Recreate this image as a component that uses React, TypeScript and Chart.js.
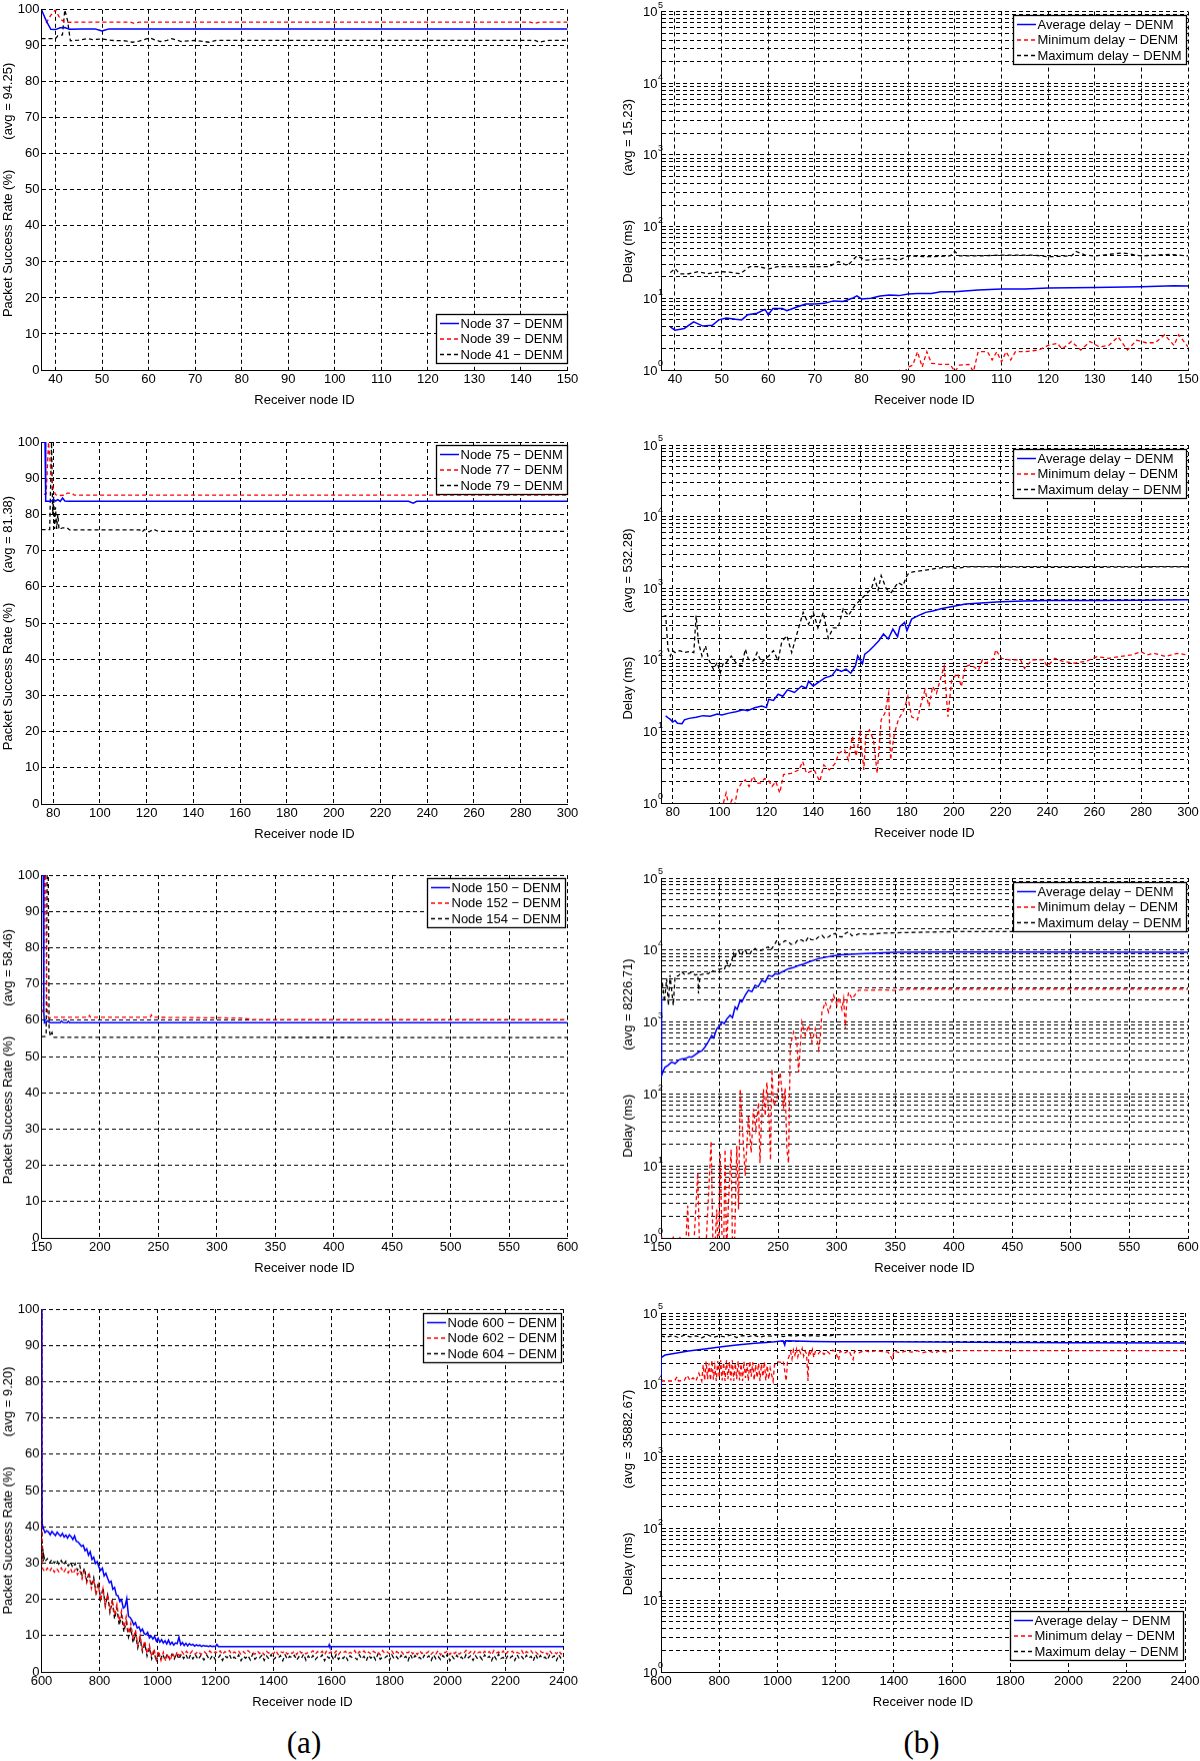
import React, { useEffect, useRef } from "react";
import { Chart, registerables } from "chart.js";

Chart.register(...registerables);

type Pt = [number, number];

const FONT = '"Liberation Sans", Arial, Helvetica, sans-serif';
const BLUE = "#0000ff";
const RED = "#ff0000";
const BLACK = "#000000";
const GRID = "#000000";

// ---------- tick arrays ----------
const PSR_Y_TICKS = [0, 10, 20, 30, 40, 50, 60, 70, 80, 90, 100];
const LOG_DECADES = [0, 1, 2, 3, 4, 5];
const LOG_MULTIPLIERS = [1, 2, 3, 4, 5, 6, 7, 8, 9];
const X_TICKS_1 = [40, 50, 60, 70, 80, 90, 100, 110, 120, 130, 140, 150];
const X_TICKS_2 = [80, 100, 120, 140, 160, 180, 200, 220, 240, 260, 280, 300];
const X_TICKS_3 = [150, 200, 250, 300, 350, 400, 450, 500, 550, 600];
const X_TICKS_4 = [600, 800, 1000, 1200, 1400, 1600, 1800, 2000, 2200, 2400];

// ---------- row 1 ----------
const R1_N37: Pt[] = [[37,100],[38,97],[39,94.6],[40,94.5],[41,95.0],[42,95.1],[43,94.6],[46,94.7],[48.5,94.7],[49.5,94.3],[50,94.1],[50.5,94.3],[51.5,94.7],[150,94.7]];
const R1_N39: Pt[] = [[38,96.3],[39,98.5],[40,100],[41,97.5],[42,96.5],[45,96.6],[56,96.6],[57,96.2],[58,96.6],[142,96.6],[143,96.2],[144,96.6],[150,96.6]];
const R1_N41: Pt[] = [[37,92.0],[40,92.0],[40.5,92.8],[41.5,93.0],[42,100],[42.6,97],[43.2,91.4],[45,91.6],[47,92.0],[48,91.7],[50,91.9],[52,91.5],[55,91.4],[56.5,91.0],[58,91.3],[59.5,91.9],[60.5,92.1],[61.5,91.6],[62.5,91.2],[64,91.5],[65,92.0],[66,91.6],[67,91.2],[70,91.5],[73,91.0],[74.5,91.5],[143,91.5],[144,91.0],[145,91.3],[146,91.5],[150,91.5]];

const R1_AVG: Pt[] = [[39,4.0],[40,3.6],[42,3.8],[44,4.7],[46,4.1],[48,4.2],[49.4,5.0],[51,5.3],[53,5.1],[54.3,5.0],[55.6,5.9],[57.6,6.2],[59.3,7.0],[60,5.9],[61,7.2],[63,7.2],[64,6.7],[66,7.5],[68,8.3],[70,8.3],[72,8.5],[74,9.2],[76,9.0],[78,10.0],[79,10.8],[80,9.8],[82,10.0],[84,10.8],[86,11.1],[88,10.9],[90,11.5],[92,11.7],[95,11.7],[97,12.3],[100,12.3],[105,13.1],[110,13.5],[115,13.5],[120,13.9],[130,14.2],[140,14.5],[147,15.0],[150,14.9]];
const R1_MIN: Pt[] = [[88,1.0],[89,0.9],[90,1.1],[91,1.17],[92,1.8],[93,1.1],[94,1.8],[95,1.24],[97,1.2],[99,1.2],[100,0.95],[101,1.17],[103,1.2],[104,0.95],[105,1.8],[107,1.8],[108,1.38],[109,1.8],[110,1.3],[111,1.8],[112,1.38],[113,1.8],[115,1.8],[118,1.9],[120,2.2],[122,2.36],[123,1.95],[125,2.5],[127,1.9],[129,2.5],[131,2.1],[133,2.2],[135,2.9],[137,1.9],[139,2.6],[141,2.4],[143,2.4],[145,3.1],[147,2.2],[148,3.1],[150,2.1]];
const R1_MAX: Pt[] = [[39,22.8],[40,26],[41,21.9],[43,22],[45,23.5],[47,22],[50,23.5],[52,23],[54,22],[56,27.6],[58,27.6],[60,25.6],[62,27.6],[66,27.6],[70,27.6],[73,27.6],[75,32.5],[77,28.5],[79,39],[81,34],[83,35],[86,36],[88,34],[90,39],[95,38],[99,39],[100,45],[101,39],[105,39],[110,40],[117,40],[120,38],[125,39],[126,45],[128,40],[130,39],[136,43],[140,39],[146,41],[150,39]];

// ---------- row 2 ----------
const R2_N75: Pt[] = [[75,100],[76.5,100],[76.8,83.6],[79,83.6],[80,84.1],[81,83.7],[82,84.1],[83,83.6],[84,84.5],[85,83.7],[86,83.6],[232,83.6],[234,83.1],[235.5,83.6],[300,83.6]];
const R2_N77: Pt[] = [[76,85.5],[77,85.7],[78,100],[79,92],[80,87],[81,85.5],[82,85.2],[85,85.3],[86,85.9],[88,85.9],[89,85.3],[300,85.3]];
const R2_N79: Pt[] = [[75,75.8],[78.5,75.8],[79.3,100],[79.8,80],[80.2,85],[80.6,76],[81,82],[81.5,76],[82,80],[82.5,75.8],[84,76.3],[86,76.3],[87,75.7],[117,75.7],[118,75.1],[119,75.8],[121,75.2],[123,75.9],[125,75.3],[300,75.3]];

const R2_AVG: Pt[] = [[77,16.5],[78,15.5],[79,14.7],[80,13.5],[81,14.2],[82,13.0],[84,12.8],[85,14.5],[87,15.2],[90,15.8],[93,16.6],[96,16.3],[99,17.5],[101,17.0],[104,18.0],[107,18.8],[110,20.0],[112,19.5],[115,21.4],[118,22.6],[120,21.5],[121,28],[123,27],[125,33],[127,31],[129,38],[132,35],[135,43],[137,40],[138,50],[140,43],[142,48],[145,56],[148,60],[150,74],[152,69],[154,74],[156,65],[158,82],[159,114],[161,88],[162,120],[164,135],[166,157],[168,185],[170,229],[172,195],[174,268],[176,210],[177,290],[179,334],[180,255],[182,370],[184,400],[186,430],[188,460],[191,480],[195,520],[200,560],[205,600],[210,617],[215,630],[220,648],[230,664],[240,672],[260,672],[280,680],[300,688]];
const R2_MIN: Pt[] = [[101,0.8],[102,1.11],[102.8,1.38],[104,0.9],[105.3,1.11],[106.5,0.95],[107.7,1.53],[109.4,1.9],[111,2.1],[112.6,1.7],[114.3,2.35],[115.9,1.9],[117.5,1.9],[119.2,2.2],[120.8,2.1],[122.4,1.7],[124,2.0],[125.7,1.38],[127.3,2.5],[130.6,2.6],[133.9,2.9],[135.5,3.8],[137.1,2.6],[140.4,2.9],[142.8,2.0],[144.5,3.4],[146.9,2.9],[149.4,3.6],[151,5],[153.4,5.5],[155,4],[156.7,8.5],[158.3,4.5],[160,9.5],[161.6,2.9],[162.4,8.5],[164,10.5],[165.7,7.6],[167.3,2.6],[169,14.5],[170.6,18],[172.2,34],[173,4.0],[174.7,9.5],[176.3,14.5],[178.7,20],[180.4,30.6],[182,16],[184.5,14.5],[186.1,25],[187.7,38],[189.4,22.3],[191,42.5],[192.6,34],[194.2,52.5],[195.9,81],[197.5,16],[199.1,52.5],[201.6,65],[203.2,42],[204.9,81],[207.3,85],[210.6,72],[212.2,100],[213.8,90],[217.1,105],[217.9,138],[220.4,105],[223.6,100],[228.5,100],[230.2,76],[233.4,100],[238.3,100],[239.9,81],[243.2,105],[246.5,95],[251.4,90],[256.3,95],[261.2,111],[266.1,105],[271,111],[275.9,117],[280,130],[282.4,117],[285.6,123],[290.5,111],[295.4,123],[300,117]];
const R2_MAX: Pt[] = [[76,400],[77,414],[78,141],[79,113],[80,134],[81,126],[83,134],[85,126],[87,130],[89,126],[90,414],[91,175],[92.5,113],[94,157],[95.3,102],[97.4,74],[99,92],[100.3,66],[101.7,92],[103,92],[105,113],[107.4,87],[109.5,82],[111,141],[112.3,102],[114.5,97],[116,126],[118,92],[121,113],[123,134],[125,97],[126.5,175],[128.7,218],[130.8,126],[132.2,184],[133.6,268],[135.7,460],[138,315],[140,460],[142,280],[144.3,460],[146.4,200],[148.5,280],[150.6,280],[152.8,515],[155,414],[157.7,570],[159.8,670],[162,790],[164.8,980],[166.2,1360],[167.7,940],[169,1500],[171.2,980],[173.3,870],[176.2,1200],[178.3,1090],[180,1500],[181,1630],[183,1700],[188,1790],[193,1900],[198,1990],[201,1900],[206,1990],[212,1990],[230,1960],[260,1960],[300,1990]];

// ---------- row 3 ----------
const R3_N150: Pt[] = [[150,100],[151.5,100],[152,62],[152.5,59.3],[155,59.8],[157,59.3],[166,59.3],[167,59.8],[168.5,59.4],[172,59.3],[173,59.7],[174,59.3],[600,59.3]];
const R3_N152: Pt[] = [[150,62],[151.5,63],[152.5,100],[153.5,100],[154.5,66],[155.5,61],[157,60.6],[160,60.8],[190,60.8],[191,61.3],[192,60.8],[243,60.8],[244,61.4],[245,60.8],[320,60.6],[330,60.2],[600,60.2]];
const R3_N154: Pt[] = [[150,55.5],[153,55.5],[154,56],[154.8,100],[155.8,100],[156.5,58],[157.5,55.6],[159,56.6],[160,55.3],[600,55.2]];

const R3_AVG: Pt[] = [[150,2300],[150.5,180],[152,210],[153.4,235],[156,250],[159,277],[162,265],[165,295],[167.7,307],[171,310],[174,330],[176.2,325],[179,350],[182,380],[185,400],[187.6,450],[190,520],[193.3,650],[195,600],[197.6,805],[200,880],[202,1000],[204,950],[206.2,1100],[209,1240],[211,1150],[213.3,1620],[215,1500],[217.6,2000],[219,1900],[221.9,2350],[224.7,2760],[227.6,2640],[230.4,3240],[233,3100],[236.1,3800],[239,3600],[241.8,4450],[245,4300],[247.5,4700],[250,4600],[253.2,4950],[258.9,5500],[263,5700],[267.5,6100],[272,6400],[276,6800],[284.6,7600],[293.1,8100],[301.7,8500],[316,8800],[330,9000],[350,9300],[400,9400],[600,9300]];
const R3_MIN: Pt[] = [[150,0.3],[150.6,1.05],[152,0.3],[153.4,0.5],[157,0.3],[160.5,1.05],[162,0.3],[163.4,0.5],[166.3,1.05],[168,0.3],[170.5,0.5],[172.8,2.8],[174.8,0.3],[177,0.4],[181.4,8.1],[183.4,0.3],[185,0.5],[187.6,0.4],[192.8,22],[194.8,0.3],[197.6,2.5],[199,0.4],[200.5,15.3],[202,1.2],[203.3,0.4],[204.7,17],[206,0.6],[207.6,3.1],[209.9,17],[211,0.8],[212.4,0.4],[214.7,19],[216.2,2.5],[217.6,117],[219.6,32.5],[221.9,7.3],[224.7,50],[227,15.3],[229,62],[231,32.5],[233.3,76],[234.5,11],[235.5,32.5],[237.5,117],[239,50],[240.4,145],[242.4,40],[243.5,12],[244.7,222],[246.1,69],[249,85],[251.8,200],[254.6,62],[256,120],[257.5,17],[258.9,11],[260.4,470],[263.2,725],[266,525],[267.5,200],[270.3,1000],[273.2,650],[276,900],[278.9,525],[281.7,800],[284.6,420],[286,600],[287.4,1370],[290.3,1900],[293.1,1370],[295,1700],[297.4,2350],[300.3,1700],[302,2200],[304.5,1500],[306,2100],[307.4,800],[308.5,1800],[310.2,2600],[313.1,2100],[318.8,2760],[327.4,2760],[340,2800],[350,2750],[360,2850],[400,2850],[450,2850],[500,2850],[600,2850]];
const R3_MAX: Pt[] = [[150,20000],[150.5,2500],[151.1,3600],[152.9,1900],[154.8,4000],[156.3,1700],[157.7,4500],[160.5,1700],[162,4300],[165,4400],[167.7,5000],[170,4600],[173.4,4700],[176,4900],[179.1,4500],[181.5,4600],[182,2480],[183.4,4500],[187,4700],[190.5,4700],[193,5200],[196.2,5000],[199,5400],[202,5500],[204,5300],[206.2,6900],[207.5,5800],[209,6100],[210.5,7200],[211.9,8900],[213,7600],[214.5,9500],[216.2,9900],[217.5,8800],[219,8500],[220.5,10200],[221.9,9900],[224,8800],[226.1,8900],[228,10100],[230.4,10500],[232.5,9700],[236.1,9900],[239,10800],[241.8,11000],[243,10000],[244.7,10500],[247,12000],[249,13700],[251,11800],[253.2,12400],[256,13500],[258.9,13000],[261,12000],[264.6,12400],[267,14000],[270.3,13700],[273,12800],[276,15200],[278,14000],[281.7,13700],[284,15000],[287.4,16000],[290,14500],[293.1,15200],[296,16500],[298.8,17000],[301,15500],[304.5,15200],[307,16800],[310.2,18000],[313,15800],[316,16000],[320,17000],[327.4,16500],[340,17200],[360,17500],[380,17800],[400,18000],[600,18000]];

// ---------- row 4 ----------
const R4_N600: Pt[] = [[600,100],[601,60],[602,41],[606,39.6],[612,38.4],[618,38.9],[624,38.6],[630,37.8],[636,38.7],[642,38.1],[648,37.6],[654,38.5],[660,37.9],[666,37.4],[672,38.2],[678,37.2],[684,37.7],[690,36.9],[696,37.8],[702,37.3],[708,36.5],[714,37.5],[720,36.0],[726,35.8],[732,35.2],[738,34.6],[744,34.9],[750,33.4],[756,33.9],[762,32.2],[768,33.1],[774,31.0],[780,31.6],[786,29.9],[792,30.4],[798,28.9],[804,28.0],[810,28.6],[816,26.5],[822,27.2],[828,25.8],[834,24.6],[840,25.0],[846,22.8],[852,23.3],[858,21.2],[864,21.0],[870,19.4],[876,19.9],[882,17.6],[888,18.0],[894,20.2],[900,15.3],[906,15.0],[912,14.2],[918,13.0],[924,13.6],[930,12.1],[936,12.4],[942,11.2],[948,11.8],[954,10.6],[960,10.3],[966,10.9],[972,9.4],[978,9.9],[984,9.1],[990,9.8],[996,8.5],[1002,9.3],[1008,8.2],[1014,8.9],[1020,8.0],[1026,8.6],[1032,7.7],[1038,8.8],[1044,7.6],[1050,8.2],[1056,7.4],[1062,8.0],[1068,7.8],[1074,9.6],[1080,7.5],[1086,8.1],[1092,7.3],[1098,7.9],[1104,7.2],[1110,7.8],[1116,7.4],[1122,7.6],[1128,7.1],[1134,7.5],[1140,7.2],[1146,7.4],[1152,7.0],[1158,7.3],[1164,7.1],[1170,7.2],[1176,7.0],[1182,7.2],[1188,7.0],[1194,7.1],[1200,7.0],[1205,7.6],[1210,7.0],[1590,7.0],[1592,7.5],[1594,7.0],[2400,7.0]];
const R4_N602_HEAD: Pt[] = [[600,30],[601,100],[602,30],[604,28.5],[612,27.6],[620,28.6],[628,27.7],[636,28.8],[644,27.5],[652,28.5],[660,27.6],[668,28.7],[676,27.4],[684,28.4],[692,27.3],[700,28.5],[708,27.0],[716,28.2],[724,26.8],[732,28.0],[740,25.6],[748,27.8],[756,24.6],[764,26.8],[772,23.0],[780,25.6],[788,21.2],[796,24.0],[804,19.6],[812,23.0],[820,18.2],[828,21.4],[836,17.0],[844,20.0],[852,15.6],[860,18.6],[868,14.0],[876,16.8],[884,12.2],[892,15.2],[900,10.6],[908,13.4],[916,9.0],[924,11.6],[932,7.4],[940,10.0],[948,6.2],[956,8.6],[964,5.0],[972,7.4],[980,4.2],[988,6.4],[996,3.4],[1004,5.8],[1012,3.2],[1020,5.4],[1028,3.0],[1036,5.0],[1044,3.1],[1052,5.2],[1060,3.8],[1068,5.6],[1076,4.4],[1084,5.6],[1092,4.7],[1100,5.7],[1110,4.8],[1120,5.8],[1130,4.9],[1140,5.7],[1150,4.8],[1160,5.7],[1170,4.9],[1180,5.8],[1190,5.0],[1200,5.6]];
const R4_N604_HEAD: Pt[] = [[600,34],[601,100],[602,33],[603,36],[604,31],[605,34],[606,30.5],[608,32],[612,30.4],[620,31.2],[628,30.1],[636,31.0],[644,30.0],[652,30.9],[660,29.7],[668,30.7],[676,29.5],[684,30.5],[692,29.2],[700,30.2],[708,28.8],[716,29.9],[724,28.0],[732,29.3],[740,26.6],[748,28.6],[756,25.0],[764,27.4],[772,23.6],[780,26.0],[788,21.8],[796,24.6],[804,20.0],[812,23.2],[820,18.2],[828,21.2],[836,16.4],[844,19.4],[852,14.6],[860,17.6],[868,12.8],[876,15.6],[884,11.0],[892,13.8],[900,9.6],[908,12.0],[916,8.0],[924,10.6],[932,6.6],[940,9.2],[948,5.6],[956,7.8],[964,4.4],[972,6.8],[980,3.6],[988,5.6],[996,2.8],[1002,5.0],[1010,3.4],[1018,4.9],[1026,3.3],[1034,5.0],[1042,3.5],[1050,4.9],[1058,3.6],[1066,5.1],[1074,3.5],[1082,4.9],[1090,3.7],[1098,4.8],[1106,3.3],[1114,4.7],[1122,3.6],[1130,4.8],[1140,3.4],[1150,4.6],[1160,3.3],[1170,4.6],[1180,3.3],[1190,4.6],[1200,3.3]];
const R4_TAIL_X = [1208,1216,1224,1232,1240,1248,1256,1264,1272,1280,1288,1296,1304,1312,1320,1328,1336,1344,1352,1360,1368,1376,1384,1392,1400,1408,1416,1424,1432,1440,1448,1456,1464,1472,1480,1488,1496,1504,1512,1520,1528,1536,1544,1552,1560,1568,1576,1584,1592,1600,1608,1616,1624,1632,1640,1648,1656,1664,1672,1680,1688,1696,1704,1712,1720,1728,1736,1744,1752,1760,1768,1776,1784,1792,1800,1808,1816,1824,1832,1840,1848,1856,1864,1872,1880,1888,1896,1904,1912,1920,1928,1936,1944,1952,1960,1968,1976,1984,1992,2000,2008,2016,2024,2032,2040,2048,2056,2064,2072,2080,2088,2096,2104,2112,2120,2128,2136,2144,2152,2160,2168,2176,2184,2192,2200,2208,2216,2224,2232,2240,2248,2256,2264,2272,2280,2288,2296,2304,2312,2320,2328,2336,2344,2352,2360,2368,2376,2384,2392,2400];
const R4_N602_TAIL = [5.1,5.8,4.8,5.6,5.3,5.9,4.9,5.5,5.2,5.7, 4.8,5.6,5.0,5.9,5.3,5.4,4.9,5.8,5.1,5.6, 4.7,5.7,5.2,5.5,5.0,5.9,4.8,5.6,5.3,5.8, 4.9,5.5,5.1,5.7,4.8,5.9,5.2,5.6,5.0,5.4, 5.3,5.8,4.9,5.6,5.1,5.7,4.7,5.9,5.2,5.5, 5.0,5.8,4.8,5.6,5.3,5.7,4.9,5.4,5.1,5.9, 4.8,5.6,5.2,5.8,5.0,5.5,4.9,5.7,5.3,5.6, 4.7,5.9,5.1,5.5,5.0,5.8,4.8,5.6,5.2,5.7, 4.9,5.4,5.3,5.9,5.0,5.6,4.8,5.8,5.1,5.5, 5.2,5.7,4.9,5.6,5.0,5.9,4.7,5.5,5.3,5.8, 4.8,5.6,5.1,5.7,4.9,5.4,5.2,5.9,5.0,5.6, 4.8,5.8,5.3,5.5,4.9,5.7,5.1,5.6,4.7,5.9, 5.2,5.5,5.0,5.8,4.8,5.6,5.3,5.7,4.9,5.4, 5.1,5.9,4.8,5.6,5.2,5.8,5.0,5.5,4.9,5.7, 5.3,5.6,4.8,5.9,5.1,5.5,5.0,5.8,4.9,5.6];
const R4_N604_TAIL = [3.7,4.6,3.2,4.4,3.9,4.8,3.4,4.1,3.6,4.7, 3.1,4.3,3.8,4.5,3.3,4.9,3.5,4.2,3.9,4.6, 3.2,4.4,3.6,4.8,3.4,4.0,3.8,4.5,3.1,4.7, 3.5,4.3,3.9,4.6,3.3,4.2,3.7,4.9,3.2,4.4, 3.6,4.5,3.4,4.1,3.9,4.7,3.1,4.3,3.8,4.6, 3.3,4.8,3.5,4.2,3.7,4.5,3.2,4.4,3.9,4.0, 3.4,4.7,3.6,4.3,3.1,4.6,3.8,4.5,3.3,4.9, 3.5,4.1,3.9,4.4,3.2,4.7,3.6,4.2,3.4,4.6, 3.8,4.3,3.1,4.8,3.5,4.5,3.7,4.0,3.3,4.6, 3.9,4.4,3.2,4.7,3.6,4.2,3.4,4.5,3.8,4.9, 3.1,4.3,3.5,4.6,3.7,4.1,3.3,4.8,3.9,4.4, 3.2,4.5,3.6,4.2,3.4,4.7,3.8,4.3,3.1,4.6, 3.5,4.9,3.7,4.0,3.3,4.5,3.9,4.4,3.2,4.7, 3.6,4.2,3.4,4.6,3.8,4.3,3.1,4.8,3.5,4.5, 3.7,4.1,3.3,4.6,3.9,4.4,3.2,4.7,3.6,4.3];

const R4_AVG: Pt[] = [[600,9400],[600.5,24000],[614,26000],[650,27500],[694,29500],[750,31500],[808,33900],[860,35800],[922,37800],[960,38800],[991,39800],[1019,41000],[1025,35800],[1028,41000],[1059,40700],[1120,40200],[1197,39800],[1379,39800],[1677,39000],[2000,38500],[2400,38200]];
const R4_MIN: Pt[] = [[600,11300],[620,11300],[640,11300],[648,11600],[655,12900],[660,11300],[680,11500],[690,13500],[700,11400],[710,12500],[720,11300],[730,14500],[740,11300],[745,19000],[750,11500],[755,21000],[760,12000],[765,20000],[770,11500],[775,22000],[780,11800],[785,18000],[790,11300],[795,21500],[800,12500],[805,22000],[810,11500],[815,20500],[820,11300],[825,22000],[830,12000],[835,21000],[840,11500],[845,22000],[850,11300],[855,20000],[860,12000],[865,21500],[870,11500],[875,19500],[880,11300],[885,21000],[890,12500],[895,20000],[900,11300],[905,21500],[910,13000],[915,20500],[920,11500],[925,19000],[930,12500],[935,20000],[940,11300],[945,19500],[950,13000],[955,21000],[960,11500],[965,18500],[970,12000],[975,17000],[985,11300],[990,19000],[1000,21000],[1010,20500],[1020,21500],[1030,11300],[1035,22000],[1040,25000],[1045,29000],[1050,23000],[1055,30500],[1060,26000],[1065,31500],[1070,24500],[1075,30000],[1080,27500],[1085,32000],[1090,25000],[1095,29500],[1100,27000],[1105,11300],[1108,30500],[1115,26000],[1120,31000],[1125,24000],[1130,29000],[1140,27000],[1150,30000],[1160,26500],[1170,29500],[1180,27000],[1190,30500],[1200,28500],[1210,22000],[1215,29500],[1230,27500],[1245,30000],[1260,22500],[1265,29500],[1280,28000],[1300,30000],[1320,28500],[1340,30000],[1360,29000],[1380,28500],[1395,22500],[1400,29500],[1420,28000],[1440,29500],[1460,28500],[1480,29800],[1500,28000],[1520,29500],[1540,28000],[1560,29800],[1580,28500],[1600,30000],[2400,30000]];
const R4_MAX: Pt[] = [[600,48000],[620,46000],[640,48500],[660,45500],[680,49000],[700,46500],[720,48000],[740,45000],[760,49500],[780,46000],[800,48000],[820,46500],[840,49500],[860,45500],[880,48500],[900,47000],[920,49000],[940,46000],[960,48500],[980,47500],[1000,50000],[1020,47000],[1040,48500],[1060,47500],[1080,49500],[1100,47500],[1120,48500],[1140,47500],[1160,49000],[1180,48000],[1200,50000],[2400,50000]];

// ---------- helpers ----------
const zip = (xs: number[], ys: number[]): Pt[] => {
  const out: Pt[] = [];
  const n = Math.min(xs.length, ys.length);
  for (let i = 0; i < n; i++) out.push([xs[i], ys[i]]);
  return out;
};

interface Series { label: string; data: Pt[]; color: string; dash: number[]; width: number }
interface PanelSpec {
  col: 0 | 1;
  L: number; T: number; R: number; B: number;
  xMin: number; xMax: number; xTicks: number[];
  log: boolean;
  yTitle: string; avg: string;
  legend: "tr" | "br"; legR: number; legV: number;
  series: Series[];
}

const DASH = [4, 3];
const sBlue = (label: string, data: Pt[]): Series => ({ label, data, color: BLUE, dash: [], width: 1.5 });
const sRed = (label: string, data: Pt[]): Series => ({ label, data, color: RED, dash: DASH, width: 1.3 });
const sBlack = (label: string, data: Pt[]): Series => ({ label, data, color: BLACK, dash: DASH, width: 1.3 });

const PSR_TITLE = "Packet Success Rate (%)";
const DELAY_TITLE = "Delay (ms)";
const delaySeries = (avg: Pt[], mn: Pt[], mx: Pt[]) => [
  sBlue("Average delay \u2212 DENM", avg),
  sRed("Minimum delay \u2212 DENM", mn),
  sBlack("Maximum delay \u2212 DENM", mx),
];

const PANELS: PanelSpec[] = [
  { col: 0, L: 41.5, T: 8, R: 567.5, B: 370, xMin: 37, xMax: 150, xTicks: X_TICKS_1, log: false, yTitle: PSR_TITLE, avg: "(avg = 94.25)", legend: "br", legR: 1, legV: 7,
    series: [sBlue("Node 37 \u2212 DENM", R1_N37), sRed("Node 39 \u2212 DENM", R1_N39), sBlack("Node 41 \u2212 DENM", R1_N41)] },
  { col: 1, L: 661, T: 11.5, R: 1188, B: 370, xMin: 37, xMax: 150, xTicks: X_TICKS_1, log: true, yTitle: DELAY_TITLE, avg: "(avg = 15.23)", legend: "tr", legR: 2, legV: 3.5,
    series: delaySeries(R1_AVG, R1_MIN, R1_MAX) },
  { col: 0, L: 41.5, T: 441.7, R: 567.5, B: 804, xMin: 75, xMax: 300, xTicks: X_TICKS_2, log: false, yTitle: PSR_TITLE, avg: "(avg = 81.38)", legend: "tr", legR: 1, legV: 2.5,
    series: [sBlue("Node 75 \u2212 DENM", R2_N75), sRed("Node 77 \u2212 DENM", R2_N77), sBlack("Node 79 \u2212 DENM", R2_N79)] },
  { col: 1, L: 661, T: 445, R: 1188, B: 803, xMin: 75, xMax: 300, xTicks: X_TICKS_2, log: true, yTitle: DELAY_TITLE, avg: "(avg = 532.28)", legend: "tr", legR: 2, legV: 3.5,
    series: delaySeries(R2_AVG, R2_MIN, R2_MAX) },
  { col: 0, L: 41.5, T: 875, R: 567.5, B: 1237.7, xMin: 150, xMax: 600, xTicks: X_TICKS_3, log: false, yTitle: PSR_TITLE, avg: "(avg = 58.46)", legend: "tr", legR: 2.5, legV: 3,
    series: [sBlue("Node 150 \u2212 DENM", R3_N150), sRed("Node 152 \u2212 DENM", R3_N152), sBlack("Node 154 \u2212 DENM", R3_N154)] },
  { col: 1, L: 661, T: 878, R: 1188, B: 1237.7, xMin: 150, xMax: 600, xTicks: X_TICKS_3, log: true, yTitle: DELAY_TITLE, avg: "(avg = 8226.71)", legend: "tr", legR: 2, legV: 3.5,
    series: delaySeries(R3_AVG, R3_MIN, R3_MAX) },
  { col: 0, L: 41.5, T: 1309, R: 563.5, B: 1671.7, xMin: 600, xMax: 2400, xTicks: X_TICKS_4, log: false, yTitle: PSR_TITLE, avg: "(avg = 9.20)", legend: "tr", legR: 2.5, legV: 3.5,
    series: [sBlue("Node 600 \u2212 DENM", R4_N600), sRed("Node 602 \u2212 DENM", [...R4_N602_HEAD, ...zip(R4_TAIL_X, R4_N602_TAIL)]), sBlack("Node 604 \u2212 DENM", [...R4_N604_HEAD, ...zip(R4_TAIL_X, R4_N604_TAIL)])] },
  { col: 1, L: 661, T: 1313, R: 1185, B: 1672, xMin: 600, xMax: 2400, xTicks: X_TICKS_4, log: true, yTitle: DELAY_TITLE, avg: "(avg = 35882.67)", legend: "br", legR: 2.5, legV: 12.5,
    series: delaySeries(R4_AVG, R4_MIN, R4_MAX) },
];

const LOG_TICKS: number[] = [];
LOG_DECADES.forEach((k) => {
  if (k === LOG_DECADES[LOG_DECADES.length - 1]) LOG_TICKS.push(Math.pow(10, k));
  else LOG_MULTIPLIERS.forEach((m) => LOG_TICKS.push(m * Math.pow(10, k)));
});

function geometry(spec: PanelSpec) {
  const cx = spec.col === 0 ? 0 : 600;
  const cw = spec.col === 0 ? 600 : 630;
  const cy = Math.max(0, spec.T - 16);
  const ch = spec.B - cy + 45;
  return { cx, cy, cw, ch };
}

function makeDecor(spec: PanelSpec, cx: number) {
  return {
    id: "decor",
    afterDatasetsDraw(chart: any) {
      const ctx: CanvasRenderingContext2D = chart.ctx;
      const area = chart.chartArea;
      ctx.save();
      ctx.font = `13px ${FONT}`;
      const maxW = Math.max(...spec.series.map((s) => ctx.measureText(s.label).width));
      const w = Math.round(25 + maxW + 4);
      const h = 49;
      const right = Math.round(area.right - spec.legR);
      const left = right - w;
      const top = Math.round(spec.legend === "tr" ? area.top + spec.legV : area.bottom - spec.legV - h);
      ctx.fillStyle = "#ffffff";
      ctx.fillRect(left, top, w, h);
      ctx.setLineDash([]);
      ctx.strokeStyle = "#000";
      ctx.lineWidth = 1.3;
      ctx.strokeRect(left + 0.5, top + 0.5, w, h);
      spec.series.forEach((s, i) => {
        const y = top + 9.5 + i * 15.5;
        ctx.beginPath();
        ctx.setLineDash(s.dash);
        ctx.strokeStyle = s.color;
        ctx.lineWidth = s.width;
        ctx.moveTo(left + 4, y);
        ctx.lineTo(left + 23, y);
        ctx.stroke();
        ctx.setLineDash([]);
        ctx.fillStyle = "#000";
        ctx.textAlign = "left";
        ctx.textBaseline = "middle";
        ctx.fillText(s.label, left + 24.5, y + 0.5);
      });
      ctx.restore();
    },
    afterDraw(chart: any) {
      const ctx: CanvasRenderingContext2D = chart.ctx;
      const area = chart.chartArea;
      ctx.save();
      ctx.fillStyle = "#000";
      ctx.font = `13px ${FONT}`;
      ctx.textAlign = "center";
      ctx.textBaseline = "middle";
      ctx.fillText("Receiver node ID", (area.left + area.right) / 2, area.bottom + 30);
      const w1 = ctx.measureText(spec.yTitle).width;
      const w2 = ctx.measureText(spec.avg).width;
      const gap = spec.log ? 44 : 30;
      const total = w1 + gap + w2;
      const tx = spec.log ? 628.7 - cx : 8.4 - cx;
      ctx.save();
      ctx.translate(tx, (area.top + area.bottom) / 2);
      ctx.rotate(-Math.PI / 2);
      ctx.textAlign = "left";
      ctx.fillText(spec.yTitle, -total / 2, 0);
      ctx.fillText(spec.avg, -total / 2 + w1 + gap, 0);
      ctx.restore();
      if (spec.log) {
        const ys = chart.scales.y;
        LOG_DECADES.forEach((k) => {
          const py = ys.getPixelForValue(Math.pow(10, k));
          ctx.font = `13px ${FONT}`;
          ctx.textAlign = "right";
          ctx.textBaseline = "middle";
          ctx.fillText("10", area.left - 3.5, py + 1);
          ctx.font = `9px ${FONT}`;
          ctx.textAlign = "left";
          ctx.fillText(String(k), area.left - 3, py - 6);
        });
      }
      ctx.restore();
    },
  };
}

function Panel({ spec }: { spec: PanelSpec }) {
  const ref = useRef<HTMLCanvasElement | null>(null);
  const g = geometry(spec);
  useEffect(() => {
    const canvas = ref.current;
    if (!canvas) return;
    const { cx, cy, cw, ch } = g;
    const tickFont = { family: FONT, size: 13 };
    const chart = new Chart(canvas, {
      type: "line",
      data: {
        datasets: spec.series.map((s) => ({
          label: s.label,
          data: s.data.map(([x, y]) => ({ x, y })),
          borderColor: s.color,
          backgroundColor: s.color,
          borderWidth: s.width,
          borderDash: s.dash,
          pointRadius: 0,
          pointHoverRadius: 0,
          tension: 0,
          fill: false,
        })),
      },
      options: {
        responsive: false,
        animation: false,
        devicePixelRatio: 1,
        events: [],
        layout: { padding: { left: 0, top: spec.T - cy, right: cx + cw - spec.R, bottom: 0 } },
        plugins: { legend: { display: false }, tooltip: { enabled: false }, title: { display: false } },
        scales: {
          x: {
            type: "linear",
            min: spec.xMin,
            max: spec.xMax,
            afterBuildTicks: (s: any) => { s.ticks = spec.xTicks.map((v) => ({ value: v })); },
            afterFit: (s: any) => { s.height = cy + ch - spec.B; },
            ticks: { autoSkip: false, maxRotation: 0, minRotation: 0, padding: 2, color: "#000", font: tickFont, callback: (v: any) => String(v) },
            grid: { color: GRID, lineWidth: 1, drawTicks: false },
            border: { display: true, color: "#000", width: 1, dash: [4, 3] },
          },
          y: spec.log
            ? {
                type: "logarithmic",
                min: 1,
                max: 100000,
                afterBuildTicks: (s: any) => { s.ticks = LOG_TICKS.map((v) => ({ value: v })); },
                afterFit: (s: any) => { s.width = spec.L - cx; },
                ticks: { display: false, autoSkip: false },
                grid: { color: GRID, lineWidth: 1, drawTicks: false },
                border: { display: true, color: "#000", width: 1, dash: [4, 3] },
              }
            : {
                type: "linear",
                min: 0,
                max: 100,
                afterBuildTicks: (s: any) => { s.ticks = PSR_Y_TICKS.map((v) => ({ value: v })); },
                afterFit: (s: any) => { s.width = spec.L - cx; },
                ticks: { autoSkip: false, padding: 2, color: "#000", font: tickFont, callback: (v: any) => String(v) },
                grid: { color: GRID, lineWidth: 1, drawTicks: false },
                border: { display: true, color: "#000", width: 1, dash: [4, 3] },
              },
        },
      } as any,
      plugins: [makeDecor(spec, cx)],
    });
    return () => chart.destroy();
  }, []);
  return (
    <canvas
      ref={ref}
      width={g.cw}
      height={g.ch}
      style={{ position: "absolute", left: g.cx, top: g.cy, width: g.cw, height: g.ch }}
    />
  );
}

export default function App() {
  return (
    <div style={{ position: "absolute", left: 0, top: 0, width: 1200, height: 1761, overflow: "hidden", background: "#fff" }}>
      {PANELS.map((p, i) => (
        <Panel key={i} spec={p} />
      ))}
      <div style={{ position: "absolute", left: 254, top: 1724, width: 100, textAlign: "center", font: '31px "Liberation Serif", "Times New Roman", serif', lineHeight: "38px", color: "#000" }}>(a)</div>
      <div style={{ position: "absolute", left: 871.5, top: 1724, width: 100, textAlign: "center", font: '31px "Liberation Serif", "Times New Roman", serif', lineHeight: "38px", color: "#000" }}>(b)</div>
    </div>
  );
}
